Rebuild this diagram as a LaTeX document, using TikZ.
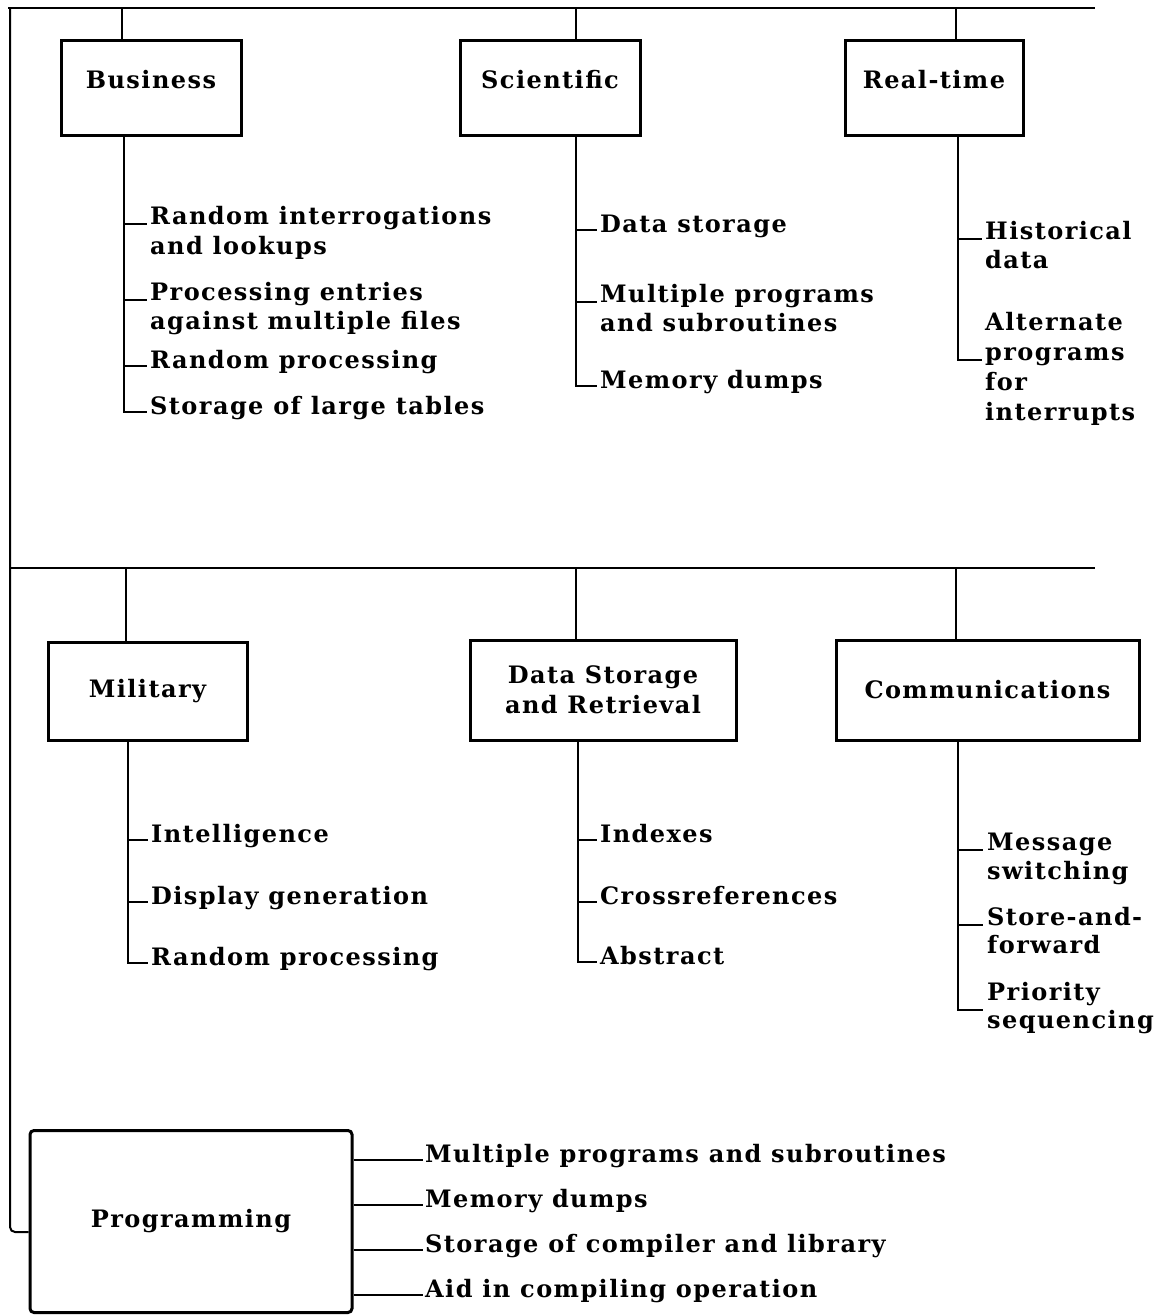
\documentclass[tikz,border=0pt]{standalone}
\usepackage{fontspec}
\setmainfont{DejaVu Serif}
\newfontfamily\dfont[LetterSpace=6]{DejaVu Serif}
\newcommand{\upbox}[1]{\raisebox{0pt}[\height][\dimexpr\depth+15pt\relax]{#1}}
\begin{document}
\begin{tikzpicture}[x=1pt,y=-1pt,
  every node/.style={font=\dfont\bfseries\fontsize{24}{30}\selectfont, inner sep=0pt},
  box/.style={draw, line width=3pt, align=center},
  conn/.style={line width=2pt},
  pconn/.style={line width=2.6pt},
  it/.style={anchor=base west},
  itm/.style={anchor=mid west}]
\useasboundingbox (0,0) rectangle (1165,1315);

% ---------- boxes ----------
\node[box, minimum width=180pt, minimum height=95pt] (bus) at (151,87.5) {\upbox{Business}};
\node[box, minimum width=180pt, minimum height=95pt] (sci) at (550,87.5) {\upbox{Scientific}};
\node[box, minimum width=178pt, minimum height=95pt] (rt) at (934,87.5) {\upbox{Real-time}};
\node[box, minimum width=199pt, minimum height=98pt] (mil) at (147.5,691) {Military};
\node[box, minimum width=266pt, minimum height=100pt] (dsr) at (603,690) {Data Storage\\and Retrieval};
\node[box, minimum width=303pt, minimum height=100pt] (com) at (987.5,690) {Communications};
\node[box, rounded corners=4pt, minimum width=322pt, minimum height=182pt] (prog) at (191,1221.5) {Programming};

% ---------- bus lines ----------
\coordinate (TL) at (8,8);
\coordinate (TR) at (1095,8);
\coordinate (LL) at (10,8);
\coordinate (ML) at (10,568);
\coordinate (MR) at (1095,568);
\draw[conn] (TL) -- (TR);
\draw[conn] (ML) -- (MR);
\draw[conn, rounded corners=5pt] (LL) |- (prog.west |- 0,1232);

% drops
\draw[conn] (TL -| 122,0) -- (bus.north -| 122,0);
\draw[conn] (TL -| 576,0) -- (sci.north -| 576,0);
\draw[conn] (TL -| 956,0) -- (rt.north -| 956,0);
\draw[conn] (ML -| 126,0) -- (mil.north -| 126,0);
\draw[conn] (ML -| 576,0) -- (dsr.north -| 576,0);
\draw[conn] (ML -| 956,0) -- (com.north -| 956,0);

% ---------- Business ----------
\node[it] (b1) at (150,224) {Random interrogations};
\node[it] (b1x) at (150,254) {and lookups};
\node[it] (b2) at (150,300) {Processing entries};
\node[it] (b2x) at (150,329) {against multiple files};
\node[itm] (b3) at (150,366) {Random processing};
\node[itm] (b4) at (150,412) {Storage of large tables};
\draw[conn] (bus.south -| 124,0) |- ([xshift=-3pt]b4.mid west);
\draw[conn] (b1.base west -| 124,0) -- ([xshift=-3pt]b1.base west);
\draw[conn] (b2.base west -| 124,0) -- ([xshift=-3pt]b2.base west);
\draw[conn] (b3.mid west -| 124,0) -- ([xshift=-3pt]b3.mid west);

% ---------- Scientific ----------
\node[itm] (s1) at (600,230) {Data storage};
\node[it] (s2) at (600,302) {Multiple programs};
\node[it] (s2x) at (600,331) {and subroutines};
\node[itm] (s3) at (600,386) {Memory dumps};
\draw[conn] (sci.south -| 576,0) |- ([xshift=-3pt]s3.mid west);
\draw[conn] (s1.mid west -| 576,0) -- ([xshift=-3pt]s1.mid west);
\draw[conn] (s2.base west -| 576,0) -- ([xshift=-3pt]s2.base west);

% ---------- Real-time ----------
\node[it] (r1) at (985,239) {Historical};
\node[it] (r1x) at (985,268) {data};
\node[it] (r2) at (985,330) {Alternate};
\node[it] (r2x) at (985,360) {programs};
\node[it] (r2y) at (985,390) {for};
\node[it] (r2z) at (985,420) {interrupts};
\draw[conn] (rt.south -| 958,0) |- ([xshift=-3pt]r2x.base west);
\draw[conn] (r1.base west -| 958,0) -- ([xshift=-3pt]r1.base west);

% ---------- Military ----------
\node[itm] (m1) at (151,840) {Intelligence};
\node[itm] (m2) at (151,902) {Display generation};
\node[itm] (m3) at (151,963) {Random processing};
\draw[conn] (mil.south -| 128,0) |- ([xshift=-3pt]m3.mid west);
\draw[conn] (m1.mid west -| 128,0) -- ([xshift=-3pt]m1.mid west);
\draw[conn] (m2.mid west -| 128,0) -- ([xshift=-3pt]m2.mid west);

% ---------- Data Storage and Retrieval ----------
\node[itm] (d1) at (600,840) {Indexes};
\node[itm] (d2) at (600,902) {Crossreferences};
\node[itm] (d3) at (600,962) {Abstract};
\draw[conn] (dsr.south -| 578,0) |- ([xshift=-3pt]d3.mid west);
\draw[conn] (d1.mid west -| 578,0) -- ([xshift=-3pt]d1.mid west);
\draw[conn] (d2.mid west -| 578,0) -- ([xshift=-3pt]d2.mid west);

% ---------- Communications ----------
\node[it] (c1) at (987,850) {Message};
\node[it] (c1x) at (987,879) {switching};
\node[it] (c2) at (987,925) {Store-and-};
\node[it] (c2x) at (987,953) {forward};
\node[it] (c3) at (987,1000) {Priority};
\node[it] (c3x) at (987,1028) {sequencing};
\draw[conn] (com.south -| 958,0) |- ([xshift=-4pt,yshift=-10pt]c3.base west);
\draw[conn] (c1.base west -| 958,0) -- ([xshift=-4pt]c1.base west);
\draw[conn] (c2.base west -| 958,0) -- ([xshift=-4pt]c2.base west);

% ---------- Programming ----------
\node[itm] (p1) at (425,1160) {Multiple programs and subroutines};
\node[itm] (p2) at (425,1205) {Memory dumps};
\node[itm] (p3) at (425,1250) {Storage of compiler and library};
\node[itm] (p4) at (425,1295) {Aid in compiling operation};
\draw[pconn] (prog.east |- p1.mid west) -- ([xshift=-2pt]p1.mid west);
\draw[pconn] (prog.east |- p2.mid west) -- ([xshift=-2pt]p2.mid west);
\draw[pconn] (prog.east |- p3.mid west) -- ([xshift=-2pt]p3.mid west);
\draw[pconn] (prog.east |- p4.mid west) -- ([xshift=-2pt]p4.mid west);
\end{tikzpicture}
\end{document}
